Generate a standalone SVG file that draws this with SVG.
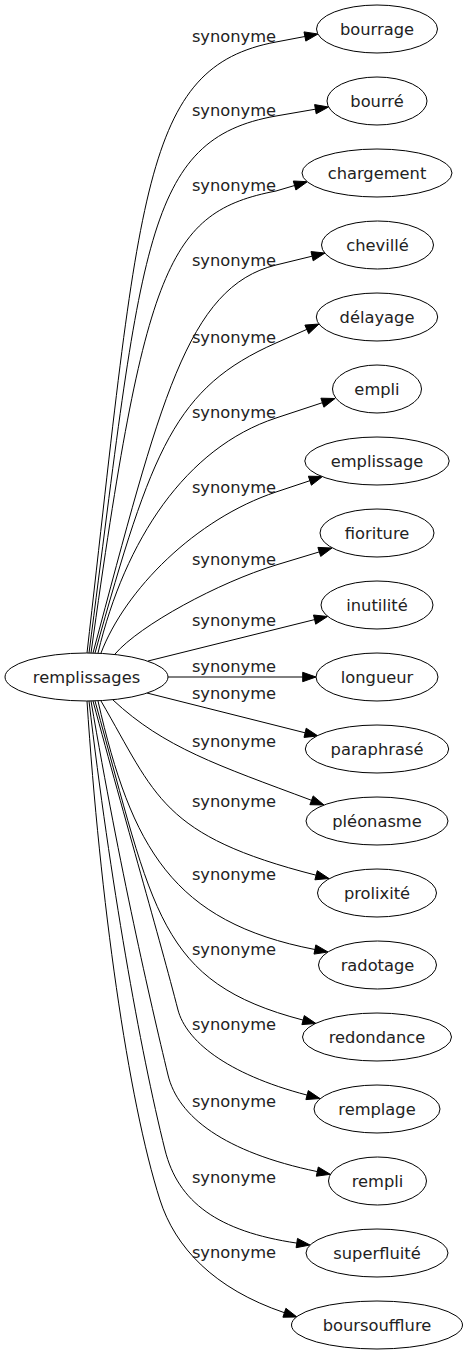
<svg xmlns="http://www.w3.org/2000/svg" width="467" height="1355" viewBox="0 0 467 1355">
<style>
.n ellipse{fill:#fff;stroke:#000;stroke-width:1}
.n text{font-family:"DejaVu Sans",Verdana,sans-serif;font-size:16.3px;fill:#222;text-anchor:middle}
.e path{fill:none;stroke:#000;stroke-width:1}
.e polygon{fill:#000;stroke:#000;stroke-width:1}
.e text{font-family:"DejaVu Sans",Verdana,sans-serif;font-size:16.3px;fill:#222;text-anchor:middle}
</style>
<rect width="467" height="1355" fill="#fff"/>
<g id="edges" class="e">
<path d="M87,653 C140,190 142,67 276,42 L304.9,36.5"/>
<polygon points="305.8,41.1 318,34 304,31.9"/>
<text x="234" y="42">synonyme</text>
<path d="M89,653 C142,246 144,139 276,116 L315.4,109.2"/>
<polygon points="316.2,113.8 328.5,107 314.6,104.6"/>
<text x="234" y="116">synonyme</text>
<path d="M91,653 C145,265 168,212 276,191 L294.6,185.5"/>
<polygon points="295.9,190 307.4,181.7 293.3,181"/>
<text x="234" y="191">synonyme</text>
<path d="M93,653 C160,403 186.6,286.9 276,265 L312.1,256.2"/>
<polygon points="313.2,260.8 325,253 311,251.6"/>
<text x="234" y="266">synonyme</text>
<path d="M95,653 C152,448 175.4,387.4 276,343 L306.8,329.4"/>
<polygon points="308.7,333.7 319,324 304.9,325.1"/>
<text x="234" y="343">synonyme</text>
<path d="M98,653 C125,540 185.7,447.8 276,418 L322.4,402.7"/>
<polygon points="323.9,407.2 335,398.5 320.9,398.2"/>
<text x="234" y="418">synonyme</text>
<path d="M101,653 C125,590 195.3,518.9 276,492 L309.9,480.7"/>
<polygon points="311.4,485.2 322.5,476.5 308.4,476.2"/>
<text x="234" y="493">synonyme</text>
<path d="M115,654 C140,625 218.6,582.5 276,565 L319.3,551.9"/>
<polygon points="320.7,556.4 332,548 317.9,547.4"/>
<text x="234" y="565">synonyme</text>
<path d="M148,661 L314.6,619.6"/>
<polygon points="315.7,624.2 327.5,616.5 313.5,615"/>
<text x="234" y="626">synonyme</text>
<path d="M168,677 L302.7,677"/>
<polygon points="302.7,681.7 316,677 302.7,672.3"/>
<text x="234" y="672">synonyme</text>
<path d="M147,693 L305.1,732.8"/>
<polygon points="304,737.4 318,736 306.2,728.2"/>
<text x="234" y="699">synonyme</text>
<path d="M113,700 C164,747.6 217.9,765.3 311.5,800.3"/>
<polygon points="309.9,804.7 324,805 313.2,795.9"/>
<text x="234" y="747">synonyme</text>
<path d="M101,701 C156.3,796 161.1,835.7 316.1,875.2"/>
<polygon points="314.9,879.8 329,878.5 317.3,870.7"/>
<text x="234" y="807">synonyme</text>
<path d="M98,701 C131.3,847.3 172.5,922.1 314.9,949.5"/>
<polygon points="314,954.1 328,952 315.8,944.9"/>
<text x="234" y="880">synonyme</text>
<path d="M95,701 C154,912.9 158,982.2 303.1,1020.1"/>
<polygon points="301.9,1024.6 316,1023.5 304.3,1015.6"/>
<text x="234" y="955">synonyme</text>
<path d="M93,701 C125,820 160,940 178,1010 C186,1040 225,1073.6 307.1,1095.1"/>
<polygon points="305.9,1099.6 320,1098.5 308.3,1090.6"/>
<text x="234" y="1030">synonyme</text>
<path d="M91,701 C120,870 150,1000 168,1075 C178,1116.7 224.3,1152.2 317.3,1171.6"/>
<polygon points="316.3,1176.2 330.3,1174.3 318.3,1167"/>
<text x="234" y="1107">synonyme</text>
<path d="M89,701 C110,880 140,1050 165,1150 C178,1202 217.7,1231.4 296.8,1243.1"/>
<polygon points="296.1,1247.7 310,1245 297.5,1238.4"/>
<text x="234" y="1183">synonyme</text>
<path d="M87,701 C100,900 128,1100 160,1200 C175,1247 213.4,1288.6 284.4,1312.7"/>
<polygon points="282.9,1317.2 297,1317 285.9,1308.3"/>
<text x="234" y="1258">synonyme</text>
</g>
<g id="remplissages" class="n"><ellipse cx="86.5" cy="677" rx="81.5" ry="24"/><text x="86.5" y="682.5">remplissages</text></g>
<g id="bourrage" class="n"><ellipse cx="377" cy="29" rx="60.5" ry="24"/><text x="377" y="34.5">bourrage</text></g>
<g id="bourre" class="n"><ellipse cx="377" cy="101" rx="50" ry="24"/><text x="377" y="106.5">bourré</text></g>
<g id="chargement" class="n"><ellipse cx="377" cy="173" rx="75" ry="24"/><text x="377" y="178.5">chargement</text></g>
<g id="cheville" class="n"><ellipse cx="377.5" cy="245" rx="56" ry="24"/><text x="377.5" y="250.5">chevillé</text></g>
<g id="delayage" class="n"><ellipse cx="377" cy="317" rx="60.7" ry="24"/><text x="377" y="322.5">délayage</text></g>
<g id="empli" class="n"><ellipse cx="377" cy="389" rx="44.5" ry="24"/><text x="377" y="394.5">empli</text></g>
<g id="emplissage" class="n"><ellipse cx="377" cy="461" rx="72.2" ry="24"/><text x="377" y="466.5">emplissage</text></g>
<g id="fioriture" class="n"><ellipse cx="377" cy="533" rx="57" ry="24"/><text x="377" y="538.5">fioriture</text></g>
<g id="inutilite" class="n"><ellipse cx="377" cy="605" rx="56" ry="24"/><text x="377" y="610.5">inutilité</text></g>
<g id="longueur" class="n"><ellipse cx="377" cy="677" rx="61" ry="24"/><text x="377" y="682.5">longueur</text></g>
<g id="paraphrase" class="n"><ellipse cx="377" cy="749" rx="71.7" ry="24"/><text x="377" y="754.5">paraphrasé</text></g>
<g id="pleonasme" class="n"><ellipse cx="377" cy="821" rx="71" ry="24"/><text x="377" y="826.5">pléonasme</text></g>
<g id="prolixite" class="n"><ellipse cx="377" cy="893" rx="59.5" ry="24"/><text x="377" y="898.5">prolixité</text></g>
<g id="radotage" class="n"><ellipse cx="377.5" cy="965" rx="59" ry="24"/><text x="377.5" y="970.5">radotage</text></g>
<g id="redondance" class="n"><ellipse cx="377" cy="1037" rx="74.5" ry="24"/><text x="377" y="1042.5">redondance</text></g>
<g id="remplage" class="n"><ellipse cx="377" cy="1109" rx="63" ry="24"/><text x="377" y="1114.5">remplage</text></g>
<g id="rempli" class="n"><ellipse cx="377.5" cy="1181" rx="49" ry="24"/><text x="377.5" y="1186.5">rempli</text></g>
<g id="superfluite" class="n"><ellipse cx="377" cy="1253" rx="71" ry="24"/><text x="377" y="1258.5">superfluité</text></g>
<g id="boursoufflure" class="n"><ellipse cx="377" cy="1325" rx="85.5" ry="24"/><text x="377" y="1330.5">boursoufflure</text></g>
</svg>
